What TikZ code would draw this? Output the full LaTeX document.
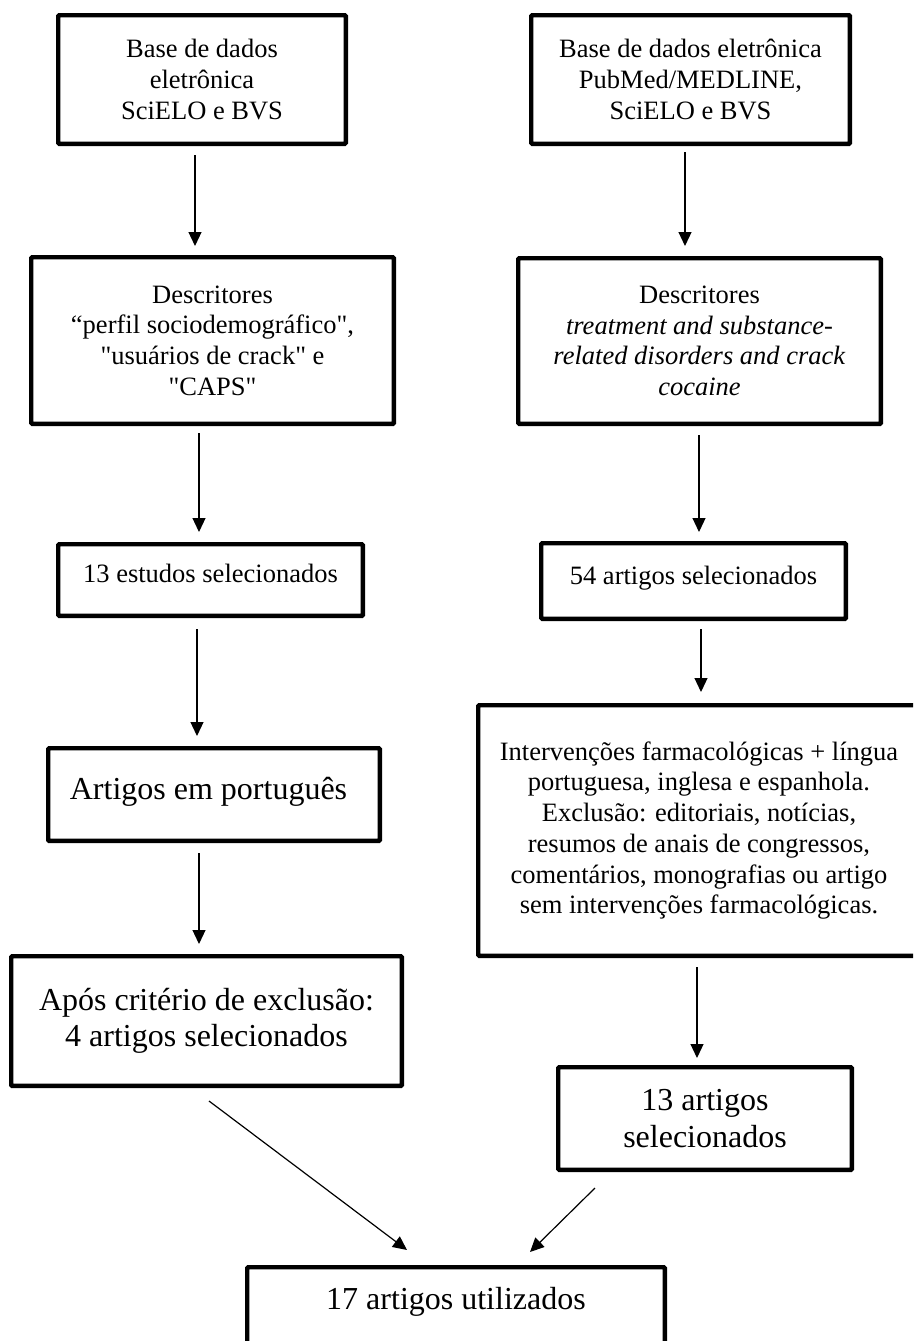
\documentclass[tikz,border=0pt]{standalone}
\usepackage{fontspec}
\newfontfamily\qserif{Liberation Serif}
\usetikzlibrary{arrows.meta}
\newcommand\tline[2]{\raisebox{#1}[0pt][0pt]{#2}}
\begin{document}
\begin{tikzpicture}[x=1pt,y=-1pt,
  box/.style={draw=black, line width=4.3pt, rounded corners=1pt, inner sep=0pt,
    font=\qserif\fontsize{26.5}{30.7}\selectfont},
  multi/.style={align=center},
  big/.style={font=\qserif\fontsize{32}{36.5}\selectfont},
  arr/.style={-{Triangle[length=14pt,width=13pt]}, line width=1.2pt}]
\useasboundingbox (0,0) rectangle (913,1341);
\clip (0,0) rectangle (913,1341);
\fill[white] (0,0) rectangle (913,1341);

% left column
\node[box,multi, minimum width=287.7pt, minimum height=128.7pt] (l1) at (202,79.5)
  {Base de dados\\eletrônica\\SciELO e BVS};
\node[box,multi, minimum width=362.7pt, minimum height=166.7pt] (l2) at (212.5,340.5)
  {Descritores\\“perfil sociodemográfico",\\"usuários de crack" e\\"CAPS"};
\node[box, minimum width=304.7pt, minimum height=71.7pt] (l3) at (210.5,580)
  {\tline{-2pt}{13 estudos selecionados}};
\node[box,big, minimum width=331.7pt, minimum height=92.7pt] (l4) at (214,794.5)
  {\tline{-4.5pt}{Artigos em português\hspace*{11pt}}};
\node[box,multi,big, minimum width=390.7pt, minimum height=129.7pt] (l5) at (206.5,1021)
  {Após critério de exclusão:\\4 artigos selecionados};

% right column
\node[box,multi, minimum width=318.7pt, minimum height=128.7pt] (r1) at (690.5,79.5)
  {Base de dados eletrônica\\PubMed/MEDLINE,\\SciELO e BVS};
\node[box,multi, minimum width=362.7pt, minimum height=165.7pt] (r2) at (699.5,341)
  {Descritores\\\textit{treatment and substance-}\\\textit{related disorders and crack}\\\textit{cocaine}};
\node[box, minimum width=304.7pt, minimum height=75.7pt] (r3) at (693.5,581)
  {\tline{-3pt}{54 artigos selecionados}};
\node[box,multi, minimum width=441.7pt, minimum height=250.7pt] (r4) at (699,830.5)
  {Intervenções farmacológicas + língua\\portuguesa, inglesa e espanhola.\\Exclusão: editoriais, notícias,\\resumos de anais de congressos,\\comentários, monografias ou artigo\\sem intervenções farmacológicas.};
\node[box,multi,big, minimum width=293.7pt, minimum height=102.7pt] (r5) at (705,1118.5)
  {13 artigos\\selecionados};

% bottom
\node[box,big, minimum width=417.7pt, minimum height=110.7pt] (b) at (456,1322.5)
  {\tline{13.5pt}{17 artigos utilizados}};

% connectors
\draw[arr] ([shift={(-7pt,-9pt)}]l1.south) -- ([shift={(-17.5pt,9pt)}]l2.north);
\draw[arr] ([shift={(-13.5pt,-7pt)}]l2.south) -- ([shift={(-11.5pt,10pt)}]l3.north);
\draw[arr] ([shift={(-13.5pt,-11pt)}]l3.south) -- ([shift={(-17pt,10pt)}]l4.north);
\draw[arr] ([shift={(-15pt,-10pt)}]l4.south) -- ([shift={(-7.5pt,10pt)}]l5.north);
\draw[arr] ([shift={(-5.5pt,-6pt)}]r1.south) -- ([shift={(-14.5pt,10pt)}]r2.north);
\draw[arr] ([shift={(-0.5pt,-9pt)}]r2.south) -- ([shift={(5.5pt,9pt)}]r3.north);
\draw[arr] ([shift={(7.5pt,-8pt)}]r3.south) -- ([shift={(2pt,11pt)}]r4.north);
\draw[arr] ([shift={(-2pt,-9pt)}]r4.south) -- ([shift={(-8pt,7pt)}]r5.north);
\draw[arr] ([shift={(2.5pt,-13pt)}]l5.south) -- ([shift={(-49pt,15pt)}]b.north);
\draw[arr] ([shift={(-110pt,-16pt)}]r5.south) -- ([shift={(74pt,13pt)}]b.north);
\end{tikzpicture}
\end{document}
